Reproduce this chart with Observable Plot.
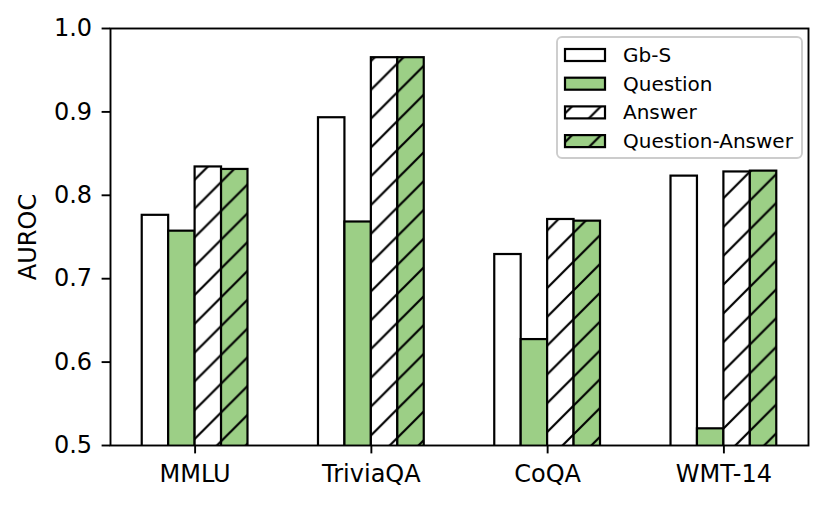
<!DOCTYPE html>
<html><head><meta charset="utf-8">
<script src="https://cdn.jsdelivr.net/npm/d3@7"></script>
<script src="https://cdn.jsdelivr.net/npm/@observablehq/plot@0.6"></script>
<style>
body{margin:0;background:#fff;}
#chart{position:relative;width:830px;height:506px;font-family:"DejaVu Sans",sans-serif;}
#legend{position:absolute;left:556px;top:36px;}
</style></head><body><div id="chart"></div>
<script>
const datasets = ["MMLU", "TriviaQA", "CoQA", "WMT-14"];
const series = ["Gb-S", "Question", "Answer", "Question-Answer"];
const gbs = [0.776, 0.893, 0.729, 0.823];
const question = [0.757, 0.768, 0.627, 0.520];
const answer = [0.834, 0.965, 0.771, 0.828];
const questionAnswer = [0.831, 0.965, 0.769, 0.829];
const yTicks = [0.5, 0.6, 0.7, 0.8, 0.9, 1.0];

const green = "#9ccf86";
const fills = {"Gb-S": "white", "Question": green, "Answer": "url(#hatch-white)", "Question-Answer": "url(#hatch-green)"};
const values = [gbs, question, answer, questionAnswer];
const rows = [];
series.forEach((s, si) => datasets.forEach((d, di) => rows.push({dataset: d, di, series: s, si, value: values[si][di]})));
const barW = 0.15;
const center = r => r.di + (r.si - (series.length - 1) / 2) * barW;
const x1 = r => center(r) - barW / 2;
const x2 = r => center(r) + barW / 2;

const plot = Plot.plot({
  width: 830, height: 506,
  marginLeft: 110, marginRight: 22, marginTop: 28, marginBottom: 61,
  style: {fontFamily: "DejaVu Sans", fontSize: "24px", background: "white", color: "black"},
  x: {domain: [-0.48, 3.48]},
  y: {domain: [0.5, 1.0]},
  marks: [
    ...series.map(s => Plot.rectY(rows.filter(r => r.series === s), {
      x1, x2, y1: 0, y2: "value", fill: fills[s], stroke: "black", strokeWidth: 2.2, clip: true
    })),
    Plot.frame({stroke: "black", strokeWidth: 1.9}),
    Plot.axisY({ticks: yTicks, tickSize: 8.4, tickPadding: 10, tickFormat: d3.format(".1f"), strokeWidth: 1.9, fontSize: 24, label: null}),
    Plot.axisX({ticks: datasets.map((_, i) => i), tickSize: 8.4, tickPadding: 11, tickFormat: i => datasets[i], strokeWidth: 1.9, fontSize: 24, label: null}),
    Plot.text(["AUROC"], {frameAnchor: "left", textAnchor: "middle", dx: -82, rotate: -90, fontSize: 24, text: d => d})
  ]
});

const defs = d3.select(plot).insert("defs", ":first-child");
[["hatch-white", "white"], ["hatch-green", green]].forEach(([id, bg]) => {
  const p = defs.append("pattern").attr("id", id).attr("patternUnits", "userSpaceOnUse")
    .attr("width", 28.8).attr("height", 28.8);
  p.append("rect").attr("width", 28.8).attr("height", 28.8).attr("fill", bg);
  p.append("path").attr("d", "M0,28.8L28.8,0M-7.2,7.2L7.2,-7.2M21.6,36L36,21.6")
    .attr("stroke", "black").attr("stroke-width", 2.2);
});

const chart = document.getElementById("chart");
chart.appendChild(plot);

// legend
const lg = d3.select(chart).append("svg").attr("id", "legend").attr("width", 248).attr("height", 124);
lg.append("rect").attr("x", 1).attr("y", 1).attr("width", 245).attr("height", 121).attr("rx", 5)
  .attr("fill", "white").attr("fill-opacity", 0.8).attr("stroke", "#cccccc").attr("stroke-width", 1.9);
series.forEach((s, i) => {
  const cy = 19 + i * 28.7;
  lg.append("rect").attr("x", 9).attr("y", cy - 6).attr("width", 40).attr("height", 12)
    .attr("fill", fills[s]).attr("stroke", "black").attr("stroke-width", 2.2);
  lg.append("text").attr("x", 67).attr("y", cy).attr("dominant-baseline", "central")
    .attr("font-family", "DejaVu Sans").attr("font-size", 20).attr("fill", "black").text(s);
});
</script></body></html>
